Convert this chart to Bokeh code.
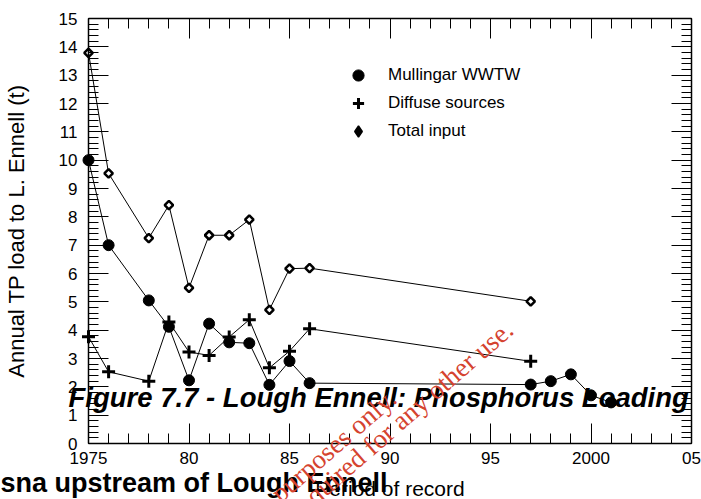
from bokeh.plotting import figure
from bokeh.models import (LinearAxis, FixedTicker, Label, Legend, LegendItem, Range1d)
from bokeh.embed import file_html
from bokeh.resources import INLINE

# ---------------- data ----------------
years_wwtw = [1975, 1976, 1978, 1979, 1980, 1981, 1982, 1983, 1984, 1985, 1986,
              1997, 1998, 1999, 2000, 2001]
wwtw = [10.0, 7.0, 5.05, 4.12, 2.23, 4.23, 3.57, 3.54, 2.07, 2.91, 2.13,
        2.08, 2.2, 2.44, 1.7, 1.45]

years_diffuse = [1975, 1976, 1978, 1979, 1980, 1981, 1982, 1983, 1984, 1985, 1986, 1997]
diffuse = [3.77, 2.53, 2.2, 4.29, 3.23, 3.11, 3.76, 4.37, 2.67, 3.26, 4.05, 2.9]

years_total = [1975, 1976, 1978, 1979, 1980, 1981, 1982, 1983, 1984, 1985, 1986, 1997]
total = [13.79, 9.53, 7.25, 8.41, 5.49, 7.35, 7.35, 7.9, 4.72, 6.17, 6.19, 5.02]

series_labels = ["Mullingar WWTW", "Diffuse sources", "Total input"]

x_major = [1975, 1980, 1985, 1990, 1995, 2000, 2005]
x_labels = ["1975", "80", "85", "90", "95", "2000", "05"]
x_minor = list(range(1975, 2006))
y_major = list(range(0, 16))
y_minor = [round(i * 0.2, 1) for i in range(0, 76)]

title_text = "Figure 7.7 - Lough Ennell: Phosphorus Loading"
bottom_text = "sna upstream of Lough Ennell"
wm_line1 = "For inspection purposes only."
wm_line2 = "Consent of copyright owner required for any other use."

# ---------------- layout: plot box in canvas pixels ----------------
W, H = 701, 499
FL, FR, FT, FB = 88, 691, 18, 443
X0, X1, Y0, Y1 = 1975, 2005, 0, 15


def dx(px):
    return X0 + (px - FL) * (X1 - X0) / (FR - FL)


def dy(py):
    return Y0 + (FB - py) * (Y1 - Y0) / (FB - FT)


FONT = "Liberation Sans"

p = figure(width=W, height=H, x_range=Range1d(dx(0), dx(W)), y_range=Range1d(dy(H), dy(0)),
           output_backend="svg", toolbar_location=None, min_border=0,
           x_axis_location=None, y_axis_location=None)
p.title.visible = False
p.xgrid.visible = False
p.ygrid.visible = False
p.outline_line_color = None
p.background_fill_color = "white"
p.border_fill_color = "white"

xticker = FixedTicker(ticks=x_major, minor_ticks=x_minor)
yticker = FixedTicker(ticks=y_major, minor_ticks=y_minor)


def make_axis(ticker, loc, bounds):
    ax = LinearAxis(ticker=ticker, fixed_location=loc, bounds=bounds)
    ax.axis_line_color = "black"
    ax.axis_line_width = 1.5
    ax.major_tick_line_color = "black"
    ax.minor_tick_line_color = "black"
    ax.major_tick_line_width = 1
    ax.minor_tick_line_width = 1
    ax.major_tick_in = 20
    ax.major_tick_out = 0
    ax.minor_tick_in = 10
    ax.minor_tick_out = 0
    ax.major_label_text_font = FONT
    ax.major_label_text_font_size = "17px"
    ax.major_label_text_color = "black"
    return ax


# bottom axis
xa = make_axis(xticker, Y0, (X0, X1))
xa.major_label_overrides = {float(t): s for t, s in zip(x_major, x_labels)}
xa.major_label_standoff = 8
xa.axis_label = "Period of record"
xa.axis_label_text_font = FONT
xa.axis_label_text_font_size = "21px"
xa.axis_label_text_font_style = "normal"
xa.axis_label_text_color = "black"
xa.axis_label_standoff = 10
p.add_layout(xa, "below")

# left axis
ya = make_axis(yticker, X0, (Y0, Y1))
ya.major_label_standoff = 11
ya.axis_label = "Annual TP load to L. Ennell (t)"
ya.axis_label_text_font = FONT
ya.axis_label_text_font_size = "22px"
ya.axis_label_text_font_style = "normal"
ya.axis_label_text_color = "black"
ya.axis_label_standoff = 27
p.add_layout(ya, "left")

# top and right axes: ticks only
top_ax = make_axis(xticker, Y1, (X0, X1))
top_ax.major_label_overrides = {float(t): "" for t in x_major}
p.add_layout(top_ax, "above")
right_ax = make_axis(yticker, X1, (Y0, Y1))
right_ax.major_label_overrides = {float(t): "" for t in y_major}
p.add_layout(right_ax, "right")

# ---------------- series ----------------
p.line(years_wwtw, wwtw, line_color="black", line_width=1)
p.line(years_diffuse, diffuse, line_color="black", line_width=1)
p.line(years_total, total, line_color="black", line_width=1)
p.scatter(years_wwtw, wwtw, marker="circle", size=11, fill_color="black", line_color="black")
p.scatter(years_diffuse, diffuse, marker="cross", size=13, line_color="black", line_width=3)
p.scatter(years_total, total, marker="square", size=6, angle=45, angle_units="deg",
          fill_color="white", line_color="black", line_width=2.5)

# legend glyphs (solid markers, as in the original legend) - not drawn in the plot
lg1 = p.scatter(years_wwtw, wwtw, marker="circle", fill_color="black", line_color="black",
                visible=False)
lg2 = p.scatter(years_diffuse, diffuse, marker="cross", line_color="black", line_width=3,
                visible=False)
lg3 = p.scatter(years_total, total, marker="diamond", fill_color="black", line_color="black",
                line_width=1.5, visible=False)

legend = Legend(items=[LegendItem(label=series_labels[0], renderers=[lg1]),
                       LegendItem(label=series_labels[1], renderers=[lg2]),
                       LegendItem(label=series_labels[2], renderers=[lg3])],
                location=(343, H - 61 - 84), orientation="vertical", padding=0, spacing=0,
                glyph_width=30, glyph_height=28, label_height=28, label_standoff=15,
                label_text_font=FONT, label_text_font_size="17px", label_text_color="black",
                border_line_alpha=0, background_fill_alpha=0, inactive_fill_alpha=0)
p.add_layout(legend)

# ---------------- overlaid texts ----------------
p.add_layout(Label(x=dx(68), y=dy(397), text=title_text, text_font=FONT,
                   text_font_style="bold italic", text_font_size="27.5px", text_color="black",
                   text_align="left", text_baseline="alphabetic"))
p.add_layout(Label(x=dx(387), y=dy(482), text=bottom_text, text_font=FONT,
                   text_font_style="bold", text_font_size="27px", text_color="black",
                   text_align="right", text_baseline="alphabetic"))
p.add_layout(Label(x=dx(392), y=dy(394), text=wm_line1, text_font="Liberation Serif",
                   text_font_size="27px", text_color="#d5432f", angle=41, angle_units="deg",
                   text_align="right", text_baseline="alphabetic", level="overlay"))
p.add_layout(Label(x=dx(509), y=dy(325), text=wm_line2, text_font="Liberation Serif",
                   text_font_size="27px", text_color="#d5432f", angle=41, angle_units="deg",
                   text_align="right", text_baseline="alphabetic", level="overlay"))

open("out.html", "w").write(file_html(p, INLINE))
